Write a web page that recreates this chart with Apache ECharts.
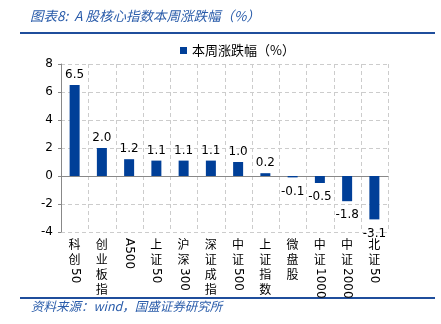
<!DOCTYPE html>
<html><head><meta charset="utf-8">
<script src="https://cdn.jsdelivr.net/npm/echarts@6/dist/echarts.min.js"></script>
<style>html,body{margin:0;padding:0;background:#fff}#c{width:441px;height:324px}</style>
</head><body><div id="c"></div>
<script>
const categories = ['科创50','创业板指','A500','上证50','沪深300','深证成指','中证500','上证指数','微盘股','中证1000','中证2000','北证50'];
const values = [6.5,2.0,1.2,1.1,1.1,1.1,1.0,0.2,-0.1,-0.5,-1.8,-3.1];
const yTicks = [-4,-2,0,2,4,6,8];
const seriesName = '本周涨跌幅（%）';
const titleText = '图表8:  A 股核心指数本周涨跌幅（%）';
const sourceText = '资料来源：wind，国盛证券研究所';

const FONT = '"DejaVu Sans","Noto Sans CJK SC",sans-serif';
const BLUE = '#003F98';
const GRID = '#cccccc';
const chart = echarts.init(document.getElementById('c'), null, {renderer:'canvas'});
const option = {
  animation:false,
  legend:{data:[seriesName], top:39, left:175, itemWidth:7, itemHeight:7, itemGap:5,
    icon:'rect', textStyle:{fontSize:13, color:'#000', fontFamily:'"Noto Sans CJK SC",sans-serif'}},
  grid:{left:61, right:53, top:64, bottom:92},
  xAxis:{type:'category', data:categories,
    axisLine:{onZero:true, lineStyle:{color:'#888', width:1}},
    axisTick:{show:false}, axisLabel:{show:false, interval:0},
    splitLine:{show:false}},
  yAxis:{type:'value', min:yTicks[0], max:yTicks[yTicks.length-1], interval:2,
    axisLine:{show:true, lineStyle:{color:'#888'}},
    axisTick:{show:true, length:3, lineStyle:{color:'#888'}},
    axisLabel:{fontSize:12, color:'#000', fontFamily:FONT, margin:8},
    splitLine:{show:true, lineStyle:{color:GRID, type:[4,3]}}},
  series:[{name:seriesName, type:'bar', barWidth:10,
    itemStyle:{color:BLUE},
    label:{show:true, position:'top', fontSize:12, color:'#000', fontFamily:FONT,
      formatter:p=>p.value.toFixed(1)}}]
};
option.series[0].data = values.map(v=>({value:v, label:{position: v<0?'bottom':'top', distance: v<0?8:4}}));
chart.setOption(option);

function buildLabels(){
  const g = [];
  g.push({type:'text', left:30, top:9, style:{text:titleText, font:'italic 13.5px "Noto Sans CJK SC",sans-serif', fill:'#2A5CAA'}});
  g.push({type:'rect', shape:{x:20,y:32,width:415,height:2}, style:{fill:'#1F4E9C'}});
  g.push({type:'rect', shape:{x:20,y:297,width:415,height:2}, style:{fill:'#1F4E9C'}});
  g.push({type:'text', left:31, top:300, style:{text:sourceText, font:'italic 12.5px "Noto Sans CJK SC",sans-serif', fill:'#2A5CAA'}});
  const half = (chart.convertToPixel({xAxisIndex:0}, 1) - chart.convertToPixel({xAxisIndex:0}, 0)) / 2;
  const yt = chart.convertToPixel({yAxisIndex:0}, yTicks[yTicks.length-1]);
  const yb = chart.convertToPixel({yAxisIndex:0}, yTicks[0]);
  for (let i = 0; i < categories.length; i++) {
    const xb = Math.round(chart.convertToPixel({xAxisIndex:0}, i) + half) + 0.5;
    g.push({type:'line', shape:{x1:xb,y1:yt,x2:xb,y2:yb}, style:{stroke:GRID, lineDash:[4,3]}, z:-1});
  }
  const y0 = yb + 6;
  categories.forEach((c,i)=>{
    const x = chart.convertToPixel({xAxisIndex:0}, i);
    let y = y0;
    const parts = c.match(/[A-Za-z0-9]+|[^A-Za-z0-9]/g);
    parts.forEach(p=>{
      if (/^[A-Za-z0-9]+$/.test(p)) {
        const w = echarts.format.getTextRect ? echarts.format.getTextRect(p, '12px "DejaVu Sans",sans-serif').width : p.length*7.6;
        g.push({type:'text', x:x, y:y, rotation:-Math.PI/2,
          style:{text:p, font:'12px "DejaVu Sans",sans-serif', fill:'#000', align:'left', verticalAlign:'middle'}});
        y += w + 1;
      } else {
        g.push({type:'text', x:x, y:y, style:{text:p, font:'12px "Noto Sans CJK SC",sans-serif', fill:'#000', align:'center', verticalAlign:'top'}});
        y += 15;
      }
    });
  });
  chart.setOption({graphic:g});
}
buildLabels();
</script></body></html>
